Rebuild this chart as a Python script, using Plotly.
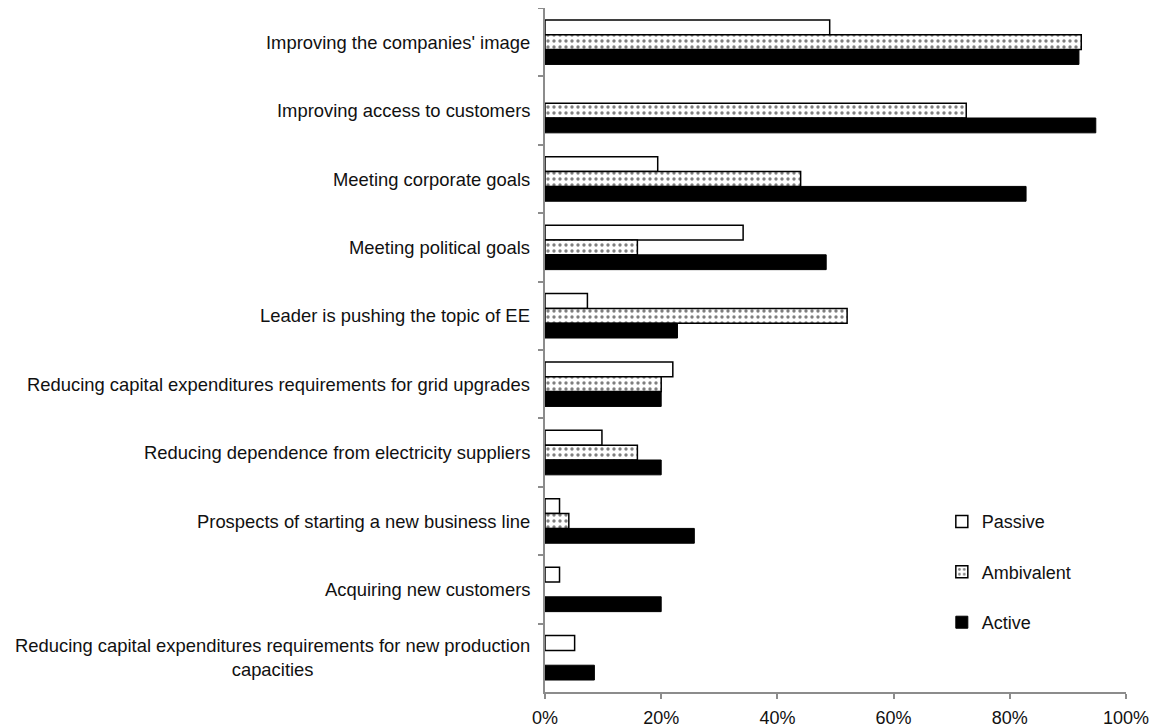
import plotly.graph_objects as go

categories = [
    "Improving the companies' image",
    "Improving access to customers",
    "Meeting corporate goals",
    "Meeting political goals",
    "Leader is pushing the topic of EE",
    "Reducing capital expenditures requirements for grid upgrades",
    "Reducing dependence from electricity suppliers",
    "Prospects of starting a new business line",
    "Acquiring new customers",
    "Reducing capital expenditures requirements for new production<br>capacities",
]

# None = no bar drawn for that category
passive = [0.49, None, 0.194, 0.341, 0.073, 0.22, 0.098, 0.025, 0.025, 0.051]
ambivalent = [0.923, 0.725, 0.44, 0.159, 0.52, 0.20, 0.159, 0.041, None, None]
active = [0.919, 0.948, 0.828, 0.484, 0.228, 0.20, 0.20, 0.257, 0.20, 0.085]

x_ticks = [0, 0.2, 0.4, 0.6, 0.8, 1.0]
x_tick_labels = ["0%", "20%", "40%", "60%", "80%", "100%"]

FONT = "Liberation Sans, Arial, sans-serif"
AXIS_GREY = "#8c8c8c"
TEXT = "#111"

fig = go.Figure()

fig.add_trace(go.Bar(
    y=categories, x=passive, name="Passive", orientation="h",
    legendgroup="p",
    marker=dict(color="white", line=dict(color="black", width=1.5)),
))
fig.add_trace(go.Bar(
    y=categories, x=ambivalent, name="Ambivalent", orientation="h",
    legendgroup="am",
    marker=dict(
        color="white",
        line=dict(color="black", width=1.5),
        pattern=dict(shape=".", fgcolor="black", bgcolor="white", size=6, solidity=0.25),
    ),
))
fig.add_trace(go.Bar(
    y=categories, x=active, name="Active", orientation="h",
    legendgroup="ac",
    marker=dict(color="black", line=dict(color="black", width=1)),
))

# category labels as annotations so the wrapped one can be centred
for cat in categories:
    fig.add_annotation(
        x=-0.022, xref="paper", y=cat, yref="y",
        text=cat, showarrow=False, xanchor="right", align="center",
        font=dict(family=FONT, size=18.4, color=TEXT),
    )

# page body adds an 8px offset, so the figure is 8px smaller
fig.update_layout(
    width=1150, height=720,
    margin=dict(l=537, r=32, t=0, b=36),
    paper_bgcolor="white", plot_bgcolor="white",
    barmode="group", bargap=0.35, bargroupgap=0,
    font=dict(family=FONT, size=18, color=TEXT),
    showlegend=True,
    legend=dict(
        x=0.683, y=0.276, xanchor="left", yanchor="top",
        traceorder="grouped", tracegroupgap=24,
        font=dict(size=18, color=TEXT),
        bgcolor="rgba(0,0,0,0)", itemwidth=30,
    ),
    xaxis=dict(
        range=[0, 1], tickvals=x_ticks, ticktext=x_tick_labels,
        showgrid=False, zeroline=False,
        showline=True, linecolor=AXIS_GREY, linewidth=1.5,
        ticks="outside", tickcolor=AXIS_GREY, ticklen=5, tickwidth=1.5,
        ticklabelstandoff=4,
        tickfont=dict(size=18, color=TEXT),
    ),
    yaxis=dict(
        autorange="reversed", showticklabels=False,
        showgrid=False, zeroline=False,
        showline=True, linecolor=AXIS_GREY, linewidth=1.5,
        ticks="outside", tickson="boundaries", tickcolor=AXIS_GREY,
        ticklen=5, tickwidth=1.5,
    ),
)

fig.write_html("out.html")
